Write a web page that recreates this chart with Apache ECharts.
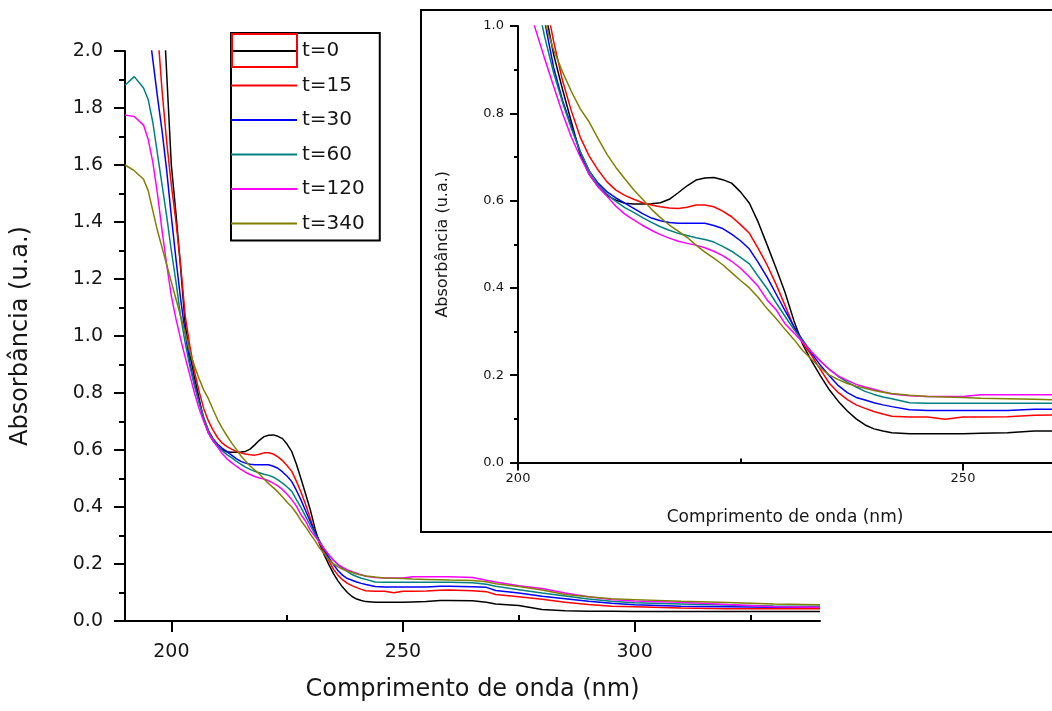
<!DOCTYPE html>
<html><head><meta charset="utf-8">
<script src="https://cdn.jsdelivr.net/npm/echarts@6/dist/echarts.min.js"></script>
<style>html,body{margin:0;padding:0;background:#fff}#c{width:1052px;height:711px}</style>
</head><body><div id="c"></div>
<script>
const wavelength = [190,192,194,195,196,197,198,199,200,201,202,203,204,205,206,207,208,209,210,211,212,213,214,215,216,217,218,219,220,221,222,223,224,225,226,227,228,229,230,231,232,233,234,235,236,237,238,239,240,241,242,244,246,248,250,252,255,258,260,265,268,270,275,280,285,290,295,300,310,320,330,340];
const t0 = [null,null,null,null,null,null,2.25,1.92,1.60,1.43,1.24,1.04,0.935,0.855,0.78,0.705,0.66,0.632,0.612,0.601,0.594,0.592,0.592,0.593,0.595,0.603,0.618,0.634,0.647,0.652,0.653,0.648,0.64,0.62,0.594,0.55,0.498,0.445,0.39,0.325,0.27,0.232,0.198,0.166,0.14,0.118,0.10,0.086,0.077,0.072,0.068,0.066,0.066,0.066,0.066,0.067,0.068,0.072,0.072,0.071,0.066,0.06,0.054,0.04,0.036,0.034,0.034,0.033,0.033,0.033,0.033,0.033];
const t15 = [null,null,null,null,null,2.08,1.86,1.68,1.53,1.40,1.25,1.07,0.965,0.875,0.805,0.745,0.702,0.67,0.643,0.624,0.612,0.603,0.595,0.59,0.586,0.583,0.582,0.585,0.59,0.59,0.586,0.576,0.563,0.545,0.525,0.49,0.452,0.408,0.36,0.31,0.273,0.245,0.212,0.181,0.16,0.144,0.132,0.124,0.117,0.111,0.106,0.104,0.104,0.099,0.104,0.104,0.105,0.108,0.109,0.106,0.103,0.093,0.085,0.076,0.066,0.058,0.052,0.05,0.046,0.043,0.043,0.043];
const t30 = [null,null,null,2.1,1.97,1.84,1.72,1.58,1.42,1.27,1.13,1.01,0.905,0.83,0.77,0.712,0.668,0.64,0.62,0.606,0.594,0.582,0.57,0.56,0.554,0.55,0.548,0.548,0.548,0.548,0.543,0.536,0.523,0.508,0.489,0.458,0.424,0.386,0.348,0.312,0.28,0.25,0.222,0.198,0.176,0.16,0.149,0.143,0.137,0.132,0.128,0.121,0.119,0.119,0.119,0.119,0.119,0.122,0.122,0.12,0.118,0.107,0.098,0.087,0.078,0.069,0.062,0.057,0.052,0.05,0.048,0.048];
const t60 = [1.88,1.91,1.87,1.83,1.75,1.64,1.53,1.42,1.30,1.19,1.07,0.975,0.893,0.825,0.765,0.712,0.668,0.636,0.615,0.598,0.584,0.573,0.561,0.55,0.54,0.532,0.525,0.52,0.515,0.511,0.505,0.495,0.484,0.47,0.455,0.426,0.398,0.366,0.335,0.305,0.278,0.253,0.232,0.213,0.197,0.184,0.173,0.163,0.156,0.15,0.146,0.137,0.136,0.136,0.136,0.136,0.136,0.136,0.136,0.134,0.129,0.122,0.11,0.098,0.088,0.077,0.069,0.064,0.06,0.056,0.053,0.052];
const t120 = [1.775,1.77,1.74,1.69,1.61,1.50,1.37,1.25,1.14,1.06,0.99,0.925,0.862,0.80,0.745,0.70,0.66,0.632,0.61,0.587,0.569,0.556,0.543,0.532,0.522,0.514,0.507,0.502,0.498,0.492,0.484,0.474,0.461,0.445,0.425,0.403,0.372,0.35,0.318,0.297,0.275,0.253,0.232,0.213,0.198,0.188,0.179,0.173,0.168,0.162,0.157,0.153,0.151,0.151,0.151,0.155,0.155,0.155,0.155,0.153,0.143,0.137,0.124,0.114,0.098,0.085,0.075,0.07,0.066,0.058,0.05,0.048];
const t340 = [1.60,1.58,1.55,1.51,1.44,1.37,1.31,1.25,1.19,1.13,1.07,1.01,0.945,0.895,0.85,0.81,0.78,0.742,0.706,0.676,0.65,0.625,0.603,0.58,0.561,0.544,0.53,0.516,0.498,0.482,0.468,0.453,0.435,0.417,0.40,0.378,0.352,0.33,0.305,0.282,0.256,0.236,0.216,0.20,0.19,0.181,0.175,0.17,0.165,0.161,0.158,0.154,0.151,0.15,0.149,0.147,0.146,0.145,0.144,0.142,0.138,0.131,0.121,0.109,0.093,0.085,0.078,0.075,0.069,0.065,0.06,0.057];
const seriesNames = ['t=0','t=15','t=30','t=60','t=120','t=340'];
const seriesValues = [t0,t15,t30,t60,t120,t340];
const seriesColors = ['#000000','#ff0000','#0000ff','#008080','#ff00ff','#808000'];
const mainXTicks = [200,250,300];
const mainXMinorTicks = [225,275,325];
const insetXTicks = [200,250];
const insetXMinorTicks = [225];

const FF = 'DejaVu Sans';
const TXT = '#161616';
const chart = echarts.init(document.getElementById('c'), null, {renderer:'canvas'});

function pairs(vals){ return wavelength.map((w,i)=>[w, vals[i]]); }

const series = [];
seriesNames.forEach((n,i)=>{
  series.push({type:'line', name:n, xAxisIndex:0, yAxisIndex:0, data:pairs(seriesValues[i]),
    symbol:'none', clip:true, lineStyle:{color:seriesColors[i], width:1.5}, itemStyle:{color:seriesColors[i]}, z:3});
});
seriesNames.forEach((n,i)=>{
  series.push({type:'line', name:n, xAxisIndex:2, yAxisIndex:1, data:pairs(seriesValues[i]),
    symbol:'none', clip:true, lineStyle:{color:seriesColors[i], width:1.5}, itemStyle:{color:seriesColors[i]}, z:3});
});

const axisLineStyle = {color:'#000', width:2};

chart.setOption({
  animation:false,
  backgroundColor:'#fff',
  grid:[
    {left:125, top:51, width:695, height:570},
    {left:518, top:26, width:535, height:436.5}
  ],
  xAxis:[
    {gridIndex:0, type:'value', min:190, max:340,
     axisLine:{show:true, onZero:false, lineStyle:axisLineStyle},
     axisTick:{show:true, customValues:mainXTicks, length:11, lineStyle:axisLineStyle},
     axisLabel:{customValues:mainXTicks, fontSize:19, fontFamily:FF, color:TXT, margin:22},
     splitLine:{show:false},
     name:'Comprimento de onda (nm)', nameLocation:'middle', nameGap:57,
     nameTextStyle:{fontSize:24, fontFamily:FF, color:TXT}},
    {gridIndex:0, type:'value', min:190, max:340,
     axisLine:{show:false},
     axisTick:{show:true, customValues:mainXMinorTicks, length:6, lineStyle:axisLineStyle},
     axisLabel:{show:false}, splitLine:{show:false}},
    {gridIndex:1, type:'value', min:200, max:260,
     axisLine:{show:true, onZero:false, lineStyle:axisLineStyle},
     axisTick:{show:true, customValues:insetXTicks, length:8, lineStyle:axisLineStyle},
     axisLabel:{customValues:insetXTicks, fontSize:13, fontFamily:FF, color:TXT, margin:10},
     splitLine:{show:false},
     name:'Comprimento de onda (nm)', nameLocation:'middle', nameGap:47,
     nameTextStyle:{fontSize:17, fontFamily:FF, color:TXT}},
    {gridIndex:1, type:'value', min:200, max:260,
     axisLine:{show:false},
     axisTick:{show:true, customValues:insetXMinorTicks, length:4, lineStyle:axisLineStyle},
     axisLabel:{show:false}, splitLine:{show:false}}
  ],
  yAxis:[
    {gridIndex:0, type:'value', min:0, max:2, interval:0.2,
     axisLine:{show:true, onZero:false, lineStyle:axisLineStyle},
     axisTick:{show:true, length:11, lineStyle:axisLineStyle},
     minorTick:{show:true, splitNumber:2, length:6, lineStyle:axisLineStyle},
     axisLabel:{fontSize:19, fontFamily:FF, color:TXT, margin:22, formatter:v=>v.toFixed(1)},
     splitLine:{show:false}, minorSplitLine:{show:false},
     name:'Absorbância (u.a.)', nameLocation:'middle', nameGap:92,
     nameTextStyle:{fontSize:24, fontFamily:FF, color:TXT}},
    {gridIndex:1, type:'value', min:0, max:1, interval:0.2,
     axisLine:{show:true, onZero:false, lineStyle:axisLineStyle},
     axisTick:{show:true, length:8, lineStyle:axisLineStyle},
     minorTick:{show:true, splitNumber:2, length:4, lineStyle:axisLineStyle},
     axisLabel:{fontSize:13, fontFamily:FF, color:TXT, margin:14, formatter:v=>v.toFixed(1)},
     splitLine:{show:false}, minorSplitLine:{show:false},
     name:'Absorbância (u.a.)', nameLocation:'middle', nameGap:67,
     nameTextStyle:{fontSize:16, fontFamily:FF, color:TXT}}
  ],
  legend:{
    left:231, top:33, orient:'vertical', icon:'rect', itemWidth:66, itemHeight:2, itemGap:10.5,
    padding:[6,15,5,0], borderColor:'#000', borderWidth:2, backgroundColor:'#fff',
    textStyle:{fontSize:20, fontFamily:FF, color:TXT, lineHeight:24},
    data:seriesNames
  },
  graphic:[
    {type:'rect', shape:{x:421, y:10, width:700, height:522}, style:{fill:'none', stroke:'#000', lineWidth:2}, z:1},
    {type:'rect', shape:{x:232, y:34, width:65, height:33}, style:{fill:'none', stroke:'#ff0000', lineWidth:2}, z:100}
  ],
  series:series
});
</script></body></html>
